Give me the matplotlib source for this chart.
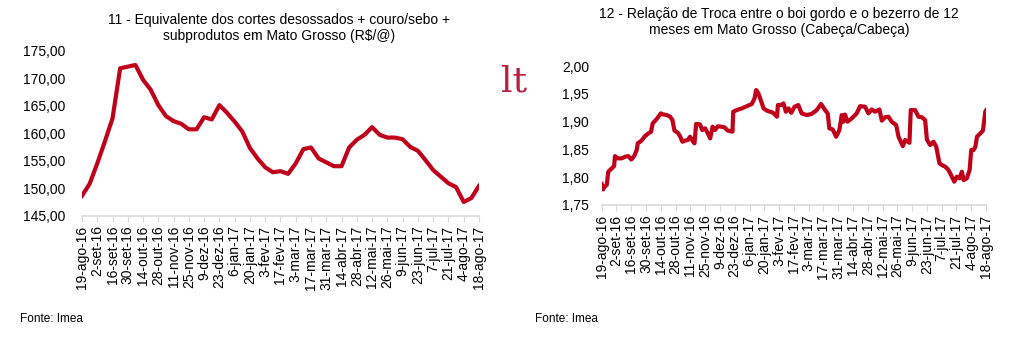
import matplotlib
matplotlib.use("Agg")
import matplotlib.pyplot as plt
from matplotlib.ticker import FuncFormatter

plt.rcParams['font.family'] = ['Liberation Sans', 'DejaVu Sans']

# datas (a cada 2 semanas) usadas nos dois graficos
tick_labels = ["19-ago-16", "2-set-16", "16-set-16", "30-set-16", "14-out-16", "28-out-16",
               "11-nov-16", "25-nov-16", "9-dez-16", "23-dez-16", "6-jan-17", "20-jan-17",
               "3-fev-17", "17-fev-17", "3-mar-17", "17-mar-17", "31-mar-17", "14-abr-17",
               "28-abr-17", "12-mai-17", "26-mai-17", "9-jun-17", "23-jun-17", "7-jul-17",
               "21-jul-17", "4-ago-17", "18-ago-17"]

# grafico 11 - semanal (R$/@)
equiv = [148.6, 150.8, 154.5, 158.5, 162.7, 171.8, 172.1, 172.4, 169.7, 167.9, 165.1,
         163.1, 162.2, 161.7, 160.7, 160.7, 162.9, 162.5, 165.1, 163.7, 162.1, 160.3,
         157.3, 155.4, 153.8, 152.9, 153.1, 152.6, 154.5, 157.1, 157.4, 155.4, 154.7,
         154.0, 154.0, 157.4, 158.8, 159.7, 161.1, 159.7, 159.2, 159.2, 158.9, 157.5,
         156.8, 155.1, 153.3, 152.1, 150.9, 150.2, 147.5, 148.2, 150.4]

# grafico 12 - diario (dia util desde 19-ago-16, cabeca/cabeca)
troca_dia = [0, 1, 2, 3.4, 4.5, 6.8, 8.4, 9, 10.8, 13.5, 16, 18, 20, 22, 23.7, 24.4, 27,
             29.3, 31.6, 33.4, 34.5, 37, 40, 41.8, 44, 46.3, 47.9, 49.2, 51.5, 53, 54.6,
             56.4, 58.2, 59.8, 61.4, 62.8, 63.9, 66.6, 68, 70, 71.8, 73.4, 75, 76.7, 78.6,
             80.8, 83, 85.3, 88.5, 89, 91.4, 94.8, 98.2, 101.6, 103.4, 104.5, 106, 108,
             109.5, 111.7, 114, 116, 118.6, 119.2, 121.4, 123, 124.6, 126.4, 128.2, 130.5,
             133, 135.3, 138.7, 142, 145.5, 148.4, 151.1, 152.9, 154, 156.3, 158.6, 160.8,
             162.4, 163.5, 164.6, 166.2, 169.2, 172.5, 174.8, 178.2, 180.4, 182.7, 185,
             187.9, 189.5, 191.7, 194, 196.2, 199.2, 200.8, 203.7, 205.3, 208.2, 209.1, 212,
             214.3, 216.6, 218.8, 220, 222.2, 224.5, 226.3, 228.5, 230.1, 232.4, 234.6,
             236.9, 238.5, 240.3, 242.1, 243.7, 244.8, 247, 248.9, 250, 251.6, 252.8, 253.9,
             256.2, 257.9, 259.5, 260.2]
troca = [1.788, 1.778, 1.783, 1.786, 1.810, 1.816, 1.820, 1.838, 1.834, 1.834, 1.837, 1.838,
         1.832, 1.838, 1.849, 1.861, 1.866, 1.874, 1.879, 1.882, 1.897, 1.904, 1.915, 1.913,
         1.912, 1.909, 1.903, 1.884, 1.880, 1.874, 1.864, 1.866, 1.867, 1.873, 1.866, 1.861,
         1.896, 1.895, 1.885, 1.888, 1.879, 1.870, 1.891, 1.885, 1.892, 1.891, 1.890, 1.884,
         1.882, 1.918, 1.921, 1.924, 1.928, 1.932, 1.942, 1.957, 1.951, 1.936, 1.924, 1.920,
         1.918, 1.916, 1.909, 1.930, 1.930, 1.933, 1.918, 1.924, 1.916, 1.927, 1.930, 1.915,
         1.912, 1.914, 1.921, 1.932, 1.921, 1.915, 1.888, 1.886, 1.873, 1.885, 1.912, 1.900,
         1.913, 1.900, 1.906, 1.915, 1.928, 1.927, 1.915, 1.922, 1.918, 1.922, 1.902, 1.908,
         1.909, 1.900, 1.894, 1.873, 1.856, 1.867, 1.862, 1.921, 1.921, 1.909, 1.908, 1.903,
         1.868, 1.858, 1.864, 1.855, 1.825, 1.822, 1.819, 1.813, 1.801, 1.792, 1.801, 1.798,
         1.810, 1.795, 1.798, 1.813, 1.849, 1.849, 1.855, 1.873, 1.879, 1.884, 1.918, 1.921]

red = '#C0001A'
grey = '#d9d9d9'

fig = plt.figure(figsize=(10.16, 3.51), dpi=100)

ax1 = fig.add_axes([0.0807, 0.3855, 0.3907, 0.4701])
ax1.plot(range(len(equiv)), equiv, color=red, lw=3.0, solid_joinstyle='round')
ax1.set_xlim(0, len(equiv) - 1)
ax1.set_ylim(145, 175)
ax1.set_yticks([145, 150, 155, 160, 165, 170, 175])
ax1.yaxis.set_major_formatter(FuncFormatter(lambda v, p: f"{v:.2f}".replace(".", ",")))
ax1.set_xticks(range(0, len(equiv), 2))
ax1.set_xticklabels(tick_labels, rotation=90)
ax1.tick_params(axis='y', length=0, pad=12, labelsize=10)
ax1.tick_params(axis='x', length=4, color=grey, pad=3, labelsize=10)

ax2 = fig.add_axes([0.5922, 0.416, 0.3783, 0.3954])
ax2.plot(troca_dia, troca, color=red, lw=3.0, solid_joinstyle='round')
ax2.set_xlim(0, 260)
ax2.set_ylim(1.75, 2.00)
ax2.set_yticks([1.75, 1.80, 1.85, 1.90, 1.95, 2.00])
ax2.yaxis.set_major_formatter(FuncFormatter(lambda v, p: f"{v:.2f}".replace(".", ",")))
ax2.set_xticks(range(0, 261, 10))
ax2.set_xticklabels(tick_labels, rotation=90)
ax2.tick_params(axis='y', length=0, pad=9, labelsize=10)
ax2.tick_params(axis='x', length=4, color=grey, pad=3, labelsize=10)

for ax in (ax1, ax2):
    for s in ('top', 'right', 'left'):
        ax.spines[s].set_visible(False)
    ax.spines['bottom'].set_color(grey)
    ax.spines['bottom'].set_linewidth(1.2)

fig.text(279 / 1016, 1 - 28 / 351,
         "11 - Equivalente dos cortes desossados + couro/sebo +\nsubprodutos em Mato Grosso (R$/@)",
         ha='center', va='center', fontsize=10, linespacing=1.15)
fig.text(779 / 1016, 1 - 22 / 351,
         "12 - Relação de Troca entre o boi gordo e o bezerro de 12\nmeses em Mato Grosso (Cabeça/Cabeça)",
         ha='center', va='center', fontsize=10, linespacing=1.15)
fig.text(20 / 1016, 1 - 319 / 351, "Fonte: Imea", ha='left', va='center', fontsize=8.5)
fig.text(535 / 1016, 1 - 319 / 351, "Fonte: Imea", ha='left', va='center', fontsize=8.5)
# pedaco do logo no meio
fig.text(501 / 1016, 1 - 82 / 351, "lt", ha='left', va='center', fontsize=26,
         family='DejaVu Serif', color='#b5203c')

fig.savefig("out.png", dpi=100)
